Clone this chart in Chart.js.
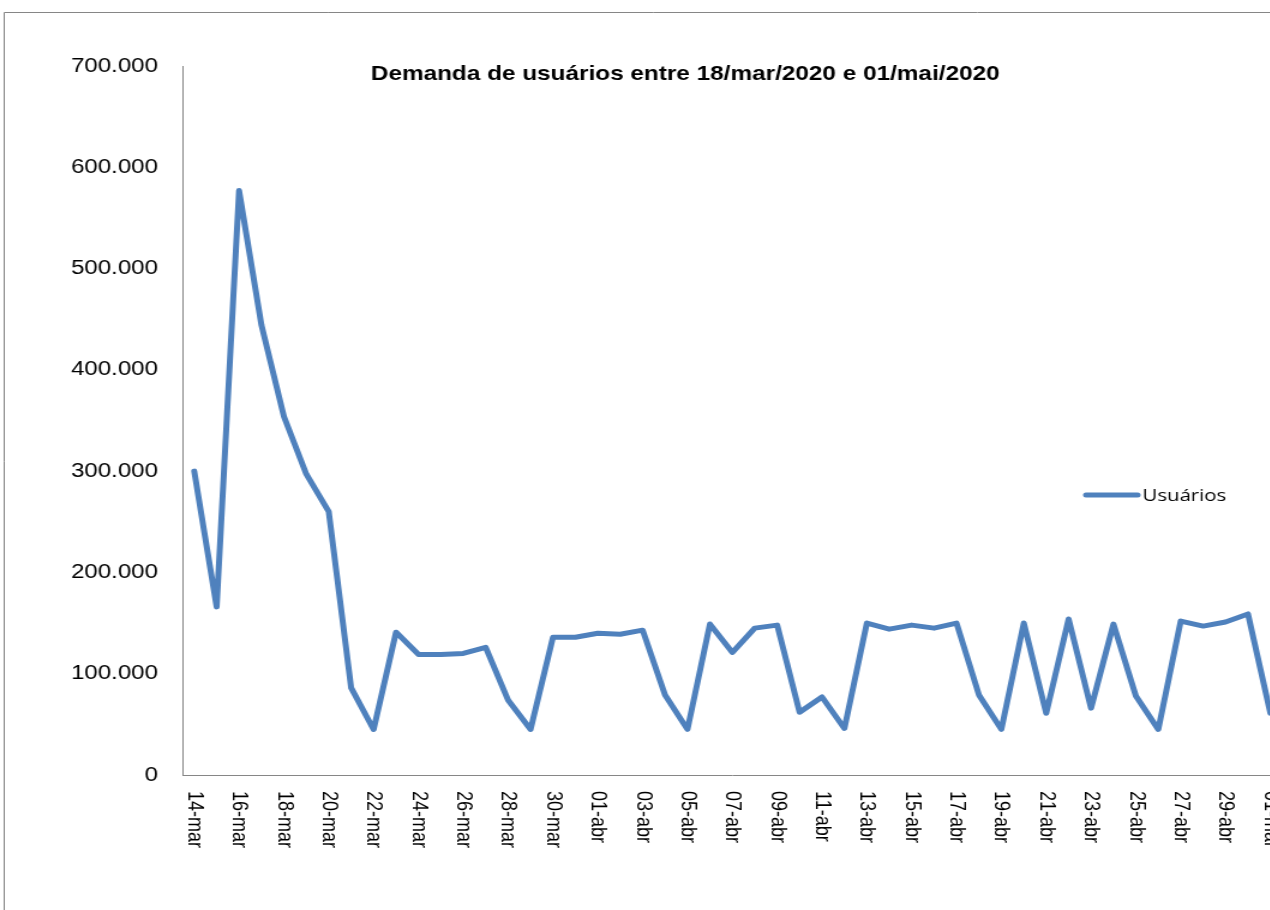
<!DOCTYPE html>
<html>
<head>
<meta charset="utf-8">
<script src="https://cdn.jsdelivr.net/npm/chart.js@4"></script>
<style>
  html, body { margin: 0; padding: 0; background: #fff; overflow: hidden; }
  /* o original é uma imagem esticada na horizontal */
  #wrap { width: 1084px; height: 910px; transform: scaleX(1.2); transform-origin: 0 0; }
</style>
</head>
<body>
<div id="wrap"><canvas id="myChart" width="1084" height="910"></canvas></div>
<script>
// dias de 14/mar a 01/mai
var dias = [
  "14-mar", "15-mar", "16-mar", "17-mar", "18-mar", "19-mar", "20-mar", "21-mar",
  "22-mar", "23-mar", "24-mar", "25-mar", "26-mar", "27-mar", "28-mar", "29-mar",
  "30-mar", "31-mar", "01-abr", "02-abr", "03-abr", "04-abr", "05-abr", "06-abr",
  "07-abr", "08-abr", "09-abr", "10-abr", "11-abr", "12-abr", "13-abr", "14-abr",
  "15-abr", "16-abr", "17-abr", "18-abr", "19-abr", "20-abr", "21-abr", "22-abr",
  "23-abr", "24-abr", "25-abr", "26-abr", "27-abr", "28-abr", "29-abr", "30-abr",
  "01-mai",
];

// usuários por dia
var usuarios = [
  300000, 166000, 577000, 444000, 354000, 297000, 260000, 86000,
  45000, 141000, 119000, 119000, 120000, 126000, 74000, 45000,
  136000, 136000, 140000, 139000, 143000, 79000, 45000, 149000,
  121000, 145000, 148000, 62000, 77000, 46000, 150000, 144000,
  148000, 145000, 150000, 79000, 45000, 150000, 61000, 154000,
  66000, 149000, 78000, 45000, 152000, 147000, 151000, 159000,
  61000,
];

var yTicks = [0, 100000, 200000, 300000, 400000, 500000, 600000, 700000];

var titulo = "Demanda de usuários entre 18/mar/2020 e 01/mai/2020";
var azul = "#4F81BD";
var cinza = "#868686";

function formatar(v) {
  return v.toString().replace(/\B(?=(\d{3})+(?!\d))/g, ".");
}

// moldura, titulo, legenda e rótulos do eixo x
var extras = {
  id: "extras",
  afterDraw: function (chart) {
    var ctx = chart.ctx;
    var area = chart.chartArea;
    var x = chart.scales.x;
    ctx.save();

    // moldura externa
    ctx.strokeStyle = cinza;
    ctx.lineWidth = 1;
    ctx.beginPath();
    ctx.moveTo(3.5, 930);
    ctx.lineTo(3.5, 12.5);
    ctx.lineTo(1100, 12.5);
    ctx.stroke();

    // titulo
    ctx.fillStyle = "#000";
    ctx.font = "bold 21px 'Liberation Sans', Arial, sans-serif";
    ctx.textBaseline = "middle";
    ctx.textAlign = "center";
    var w = ctx.measureText(titulo).width;
    ctx.save();
    ctx.translate(571, 74);
    ctx.scale(524 / w, 1);
    ctx.fillText(titulo, 0, 0);
    ctx.restore();

    // rótulos do eixo x (de cima para baixo)
    ctx.font = "18px 'Liberation Sans', Arial, sans-serif";
    ctx.textAlign = "left";
    ctx.textBaseline = "middle";
    for (var i = 0; i < dias.length; i += 2) {
      var px = x.getPixelForValue(i);
      ctx.save();
      ctx.translate(px, area.bottom + 16);
      ctx.rotate(Math.PI / 2);
      ctx.fillText(dias[i], 0, 0);
      ctx.restore();
    }

    // legenda
    var ds = chart.data.datasets[0];
    ctx.strokeStyle = ds.borderColor;
    ctx.lineWidth = 5;
    ctx.lineCap = "round";
    ctx.beginPath();
    ctx.moveTo(905, 495);
    ctx.lineTo(948, 495);
    ctx.stroke();
    ctx.fillStyle = "#000";
    ctx.font = "17px 'Open Sans', sans-serif";
    ctx.textAlign = "left";
    ctx.fillText(ds.label, 952, 496);

    ctx.restore();
  },
};

var ctx = document.getElementById("myChart").getContext("2d");
var myChart = new Chart(ctx, {
  type: "line",
  data: {
    labels: dias,
    datasets: [
      {
        label: "Usuários",
        data: usuarios,
        borderColor: azul,
        backgroundColor: azul,
        borderWidth: 5,
        pointRadius: 0,
        tension: 0,
        borderJoinStyle: "round",
        borderCapStyle: "round",
      },
    ],
  },
  options: {
    responsive: false,
    animation: false,
    layout: {
      padding: { left: 0, top: 66, right: 16, bottom: 0 },
    },
    plugins: {
      legend: { display: false },
      title: { display: false },
      tooltip: { enabled: false },
    },
    scales: {
      x: {
        offset: true,
        grid: { display: false },
        border: { display: true, color: cinza, width: 1 },
        ticks: { display: false },
        afterFit: function (scale) {
          scale.height = 135;
        },
      },
      y: {
        min: 0,
        max: 700000,
        grid: { display: false, drawTicks: false },
        border: { display: true, color: cinza, width: 1 },
        afterBuildTicks: function (scale) {
          scale.ticks = yTicks.map(function (v) {
            return { value: v };
          });
        },
        ticks: {
          padding: 21,
          color: "#000",
          font: { family: "'Liberation Sans', Arial, sans-serif", size: 20 },
          callback: function (v) {
            return formatar(v);
          },
        },
        afterFit: function (scale) {
          scale.width = 152.5;
        },
      },
    },
  },
  plugins: [extras],
});
</script>
</body>
</html>
